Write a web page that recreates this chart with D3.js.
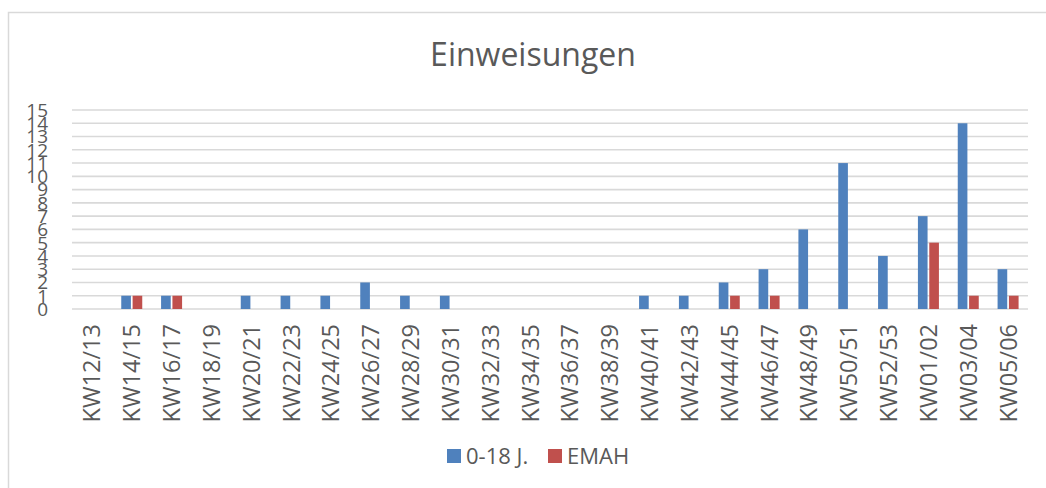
<!DOCTYPE html>
<html>
<head>
  <meta charset="UTF-8" />
  <title>Einweisungen</title>
  <script src="https://cdn.jsdelivr.net/npm/d3@7"></script>
  <style>
    body { margin: 0; background: #fff; }
    text { font-family: "Open Sans", "Liberation Sans", sans-serif; fill: #595959; }
  </style>
</head>
<body>
  <svg width="1046" height="488"></svg>
  <script>
    // data
    var categories = ["KW12/13", "KW14/15", "KW16/17", "KW18/19", "KW20/21", "KW22/23", "KW24/25", "KW26/27",
      "KW28/29", "KW30/31", "KW32/33", "KW34/35", "KW36/37", "KW38/39", "KW40/41", "KW42/43",
      "KW44/45", "KW46/47", "KW48/49", "KW50/51", "KW52/53", "KW01/02", "KW03/04", "KW05/06"];
    var kids = [0, 1, 1, 0, 1, 1, 1, 2, 1, 1, 0, 0, 0, 0, 1, 1, 2, 3, 6, 11, 4, 7, 14, 3];
    var emah = [0, 1, 1, 0, 0, 0, 0, 0, 0, 0, 0, 0, 0, 0, 0, 0, 1, 1, 0, 0, 0, 5, 1, 1];
    var seriesNames = ["0-18 J.", "EMAH"];
    var yTicks = d3.range(0, 16);

    var colors = ["#4F81BD", "#C0504D"];
    var svg = d3.select("svg");

    // chart frame (only top and left edges visible)
    svg.append("path")
      .attr("d", "M8.5,488 L8.5,12.5 L1046,12.5")
      .attr("fill", "none")
      .attr("stroke", "#D9D9D9")
      .attr("stroke-width", 1.5);

    var x = d3.scaleBand().domain(categories).range([72, 1028]);
    var y = d3.scaleLinear().domain([0, 15]).range([309, 110]);
    var sub = d3.scaleBand().domain(seriesNames).range([-10.5, 10.5]).paddingInner(0.15);

    // gridlines
    svg.append("g")
      .selectAll("line")
      .data(yTicks)
      .enter()
      .append("line")
      .attr("x1", 72)
      .attr("x2", 1028)
      .attr("y1", d => y(d))
      .attr("y2", d => y(d))
      .attr("stroke", "#D9D9D9")
      .attr("stroke-width", 1.6);

    // y tick labels
    svg.append("g")
      .selectAll("text")
      .data(yTicks)
      .enter()
      .append("text")
      .attr("x", 48)
      .attr("y", d => y(d))
      .attr("dy", "0.36em")
      .attr("text-anchor", "end")
      .attr("font-size", 19)
      .text(d => d);

    // bars
    var series = [kids, emah];
    series.forEach(function (vals, si) {
      svg.append("g")
        .selectAll("rect")
        .data(vals)
        .enter()
        .append("rect")
        .attr("x", (d, i) => x(categories[i]) + x.bandwidth() / 2 + sub(seriesNames[si]))
        .attr("width", sub.bandwidth())
        .attr("y", d => y(d))
        .attr("height", d => y(0) - y(d))
        .attr("fill", colors[si]);
    });

    // x labels
    svg.append("g")
      .selectAll("text")
      .data(categories)
      .enter()
      .append("text")
      .attr("transform", d => "translate(" + (x(d) + x.bandwidth() / 2) + ",324) rotate(-90)")
      .attr("dy", "0.36em")
      .attr("text-anchor", "end")
      .attr("font-size", 23.5)
      .text(d => d);

    // title
    svg.append("text")
      .attr("x", 533)
      .attr("y", 66)
      .attr("text-anchor", "middle")
      .attr("font-size", 32)
      .text("Einweisungen");

    // legend
    var legendX = [447, 548];
    var legend = svg.append("g")
      .selectAll("g")
      .data(seriesNames)
      .enter()
      .append("g")
      .attr("transform", (d, i) => "translate(" + legendX[i] + ",449)");
    legend.append("rect")
      .attr("width", 14)
      .attr("height", 14)
      .attr("fill", (d, i) => colors[i]);
    legend.append("text")
      .attr("x", 19)
      .attr("y", 7)
      .attr("dy", "0.36em")
      .attr("font-size", 22)
      .text(d => d);
  </script>
</body>
</html>
